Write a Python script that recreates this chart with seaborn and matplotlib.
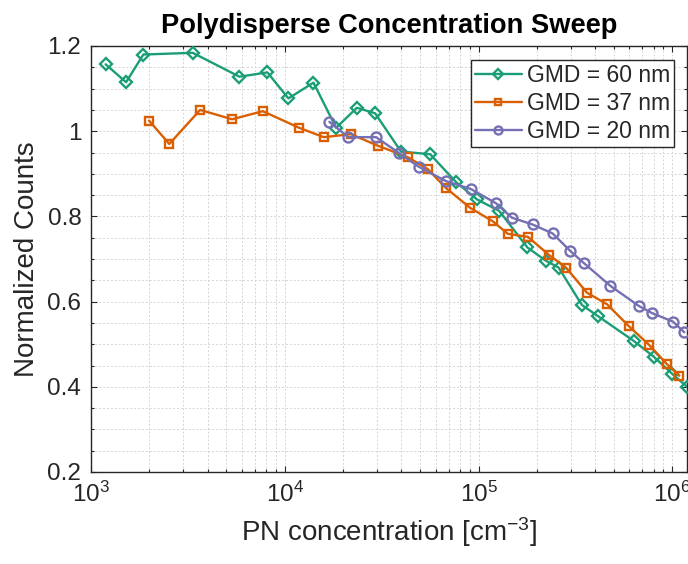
import numpy as np
import pandas as pd
import matplotlib
matplotlib.use("Agg")
import matplotlib.pyplot as plt
import seaborn as sns
from matplotlib.ticker import (LogLocator, LogFormatterSciNotation, MultipleLocator,
                               FuncFormatter, NullFormatter)

# ---------------- data ----------------
gmd60_x = [1190, 1517, 1862, 3350, 5834, 8135, 10440, 14060, 18410, 23550, 29260,
           39810, 56230, 76350, 98000, 127700, 178700, 222300, 258600, 341500,
           412800, 630600, 800000, 995000, 1190000]
gmd60_y = [1.157, 1.115, 1.180, 1.184, 1.128, 1.138, 1.077, 1.114, 1.008, 1.055, 1.042,
           0.952, 0.946, 0.881, 0.840, 0.813, 0.727, 0.696, 0.680, 0.592,
           0.566, 0.508, 0.471, 0.431, 0.400]

gmd37_x = [1992, 2535, 3657, 5348, 7696, 11860, 15890, 21950, 30210, 43150, 54720,
           67730, 90510, 118000, 141700, 179700, 231400, 282300, 362300, 459500,
           594000, 760000, 938000, 1086000]
gmd37_y = [1.025, 0.970, 1.050, 1.028, 1.047, 1.008, 0.986, 0.993, 0.966, 0.939, 0.911,
           0.867, 0.820, 0.789, 0.759, 0.752, 0.709, 0.680, 0.621, 0.594,
           0.543, 0.498, 0.453, 0.426]

gmd20_x = [16990, 21280, 29580, 39060, 48980, 67730, 91560, 122800, 148500, 189900,
           240900, 297200, 348300, 478400, 670400, 785800, 1007000, 1152000]
gmd20_y = [1.022, 0.986, 0.986, 0.948, 0.917, 0.883, 0.864, 0.831, 0.797, 0.781,
           0.760, 0.719, 0.691, 0.637, 0.590, 0.573, 0.553, 0.528]

series_labels = ["GMD = 60 nm", "GMD = 37 nm", "GMD = 20 nm"]
series_colors = ["#1b9e77", "#d95f02", "#7570b3"]
series_markers = ["D", "s", "o"]
series_msize = [5.8, 6.0, 7.2]

title_text = "Polydisperse Concentration Sweep"
xlabel_text = "PN concentration [cm$^{-3}$]"
ylabel_text = "Normalized Counts"

# ---------------- style ----------------
sns.set_style("ticks")
plt.rcParams["font.family"] = ["Liberation Sans", "DejaVu Sans"]
plt.rcParams["mathtext.fontset"] = "custom"
plt.rcParams["mathtext.rm"] = "Liberation Sans"
plt.rcParams["mathtext.it"] = "Liberation Sans:italic"
plt.rcParams["mathtext.bf"] = "Liberation Sans:bold"
plt.rcParams["axes.unicode_minus"] = False

fig = plt.figure(figsize=(6.88, 5.64), dpi=100)
ax = fig.add_axes([91 / 688, 92 / 564, 596 / 688, 426 / 564])

xs = [gmd60_x, gmd37_x, gmd20_x]
ys = [gmd60_y, gmd37_y, gmd20_y]
for x, y, lab, col, mk, ms in zip(xs, ys, series_labels, series_colors,
                                  series_markers, series_msize):
    df = pd.DataFrame({"x": x, "y": y})
    sns.lineplot(data=df, x="x", y="y", ax=ax, color=col, marker=mk,
                 markersize=ms, markerfacecolor="none", markeredgecolor=col,
                 markeredgewidth=1.7, linewidth=1.7, label=lab,
                 estimator=None, sort=False, zorder=3)

ax.set_xscale("log")
ax.set_xlim(1e3, 1.19e6)
ax.set_ylim(0.2, 1.2)

ax.xaxis.set_major_locator(LogLocator(base=10, numticks=10))
ax.xaxis.set_minor_locator(LogLocator(base=10, subs=np.arange(2, 10), numticks=20))
ax.xaxis.set_major_formatter(LogFormatterSciNotation())
ax.xaxis.set_minor_formatter(NullFormatter())
ax.yaxis.set_major_locator(MultipleLocator(0.2))
ax.yaxis.set_minor_locator(MultipleLocator(0.05))
ax.yaxis.set_major_formatter(FuncFormatter(lambda v, p: f"{v:g}"))

ax.grid(True, which="both", color="#d4d4d4", linestyle=(0, (2, 2)), linewidth=0.7)
ax.set_axisbelow(True)

for s in ax.spines.values():
    s.set_visible(True)
    s.set_color("#262626")
    s.set_linewidth(1.0)

ax.tick_params(which="both", direction="in", top=True, right=True,
               colors="#262626", labelcolor="#262626")
ax.tick_params(which="major", length=4.5, width=0.8, labelsize=17.5, pad=7)
ax.tick_params(which="minor", length=2.3, width=0.8)

ax.set_title(title_text, fontsize=19.6, fontweight="bold", pad=9.5, color="black")
ax.set_xlabel(xlabel_text, fontsize=20, color="#262626", labelpad=6)
ax.set_ylabel(ylabel_text, fontsize=20, color="#262626", labelpad=5.5)

leg = ax.legend(loc="upper right", bbox_to_anchor=(0.9787, 0.967),
                borderaxespad=0, fontsize=16.5, frameon=True, fancybox=False,
                framealpha=1, edgecolor="#262626", handlelength=2.05,
                handletextpad=0.22, borderpad=0.18, labelspacing=0.22,
                markerscale=0.8)
leg.get_frame().set_linewidth(1.0)

fig.savefig("out.png", dpi=100)
